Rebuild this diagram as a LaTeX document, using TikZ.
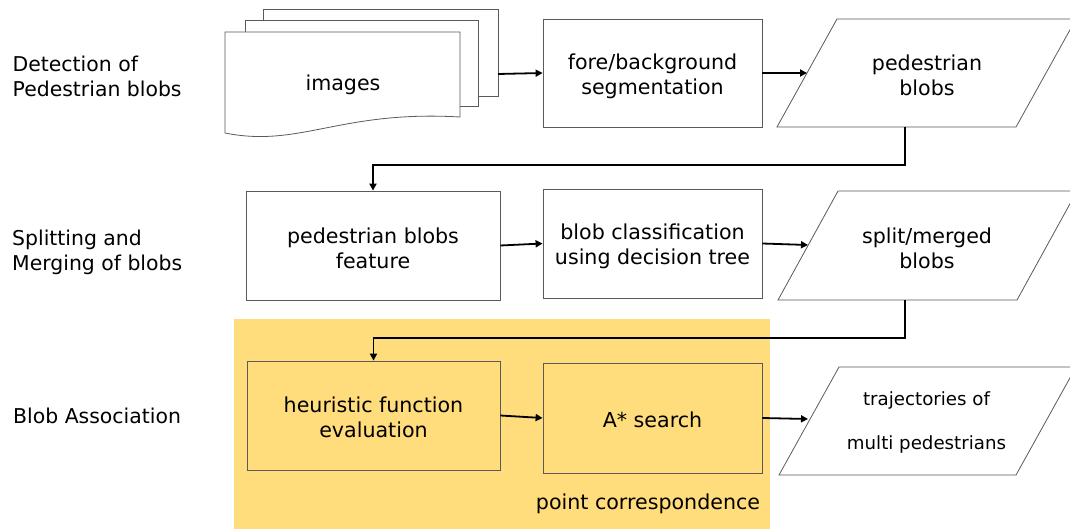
\documentclass[tikz,border=0pt]{standalone}
\usepackage{fontspec}
\setmainfont{DejaVu Sans}
\usetikzlibrary{arrows.meta,calc}
\definecolor{hl}{HTML}{FFDC7C}
\definecolor{edge}{HTML}{5A5A5A}
\begin{document}
\begin{tikzpicture}[x=1pt,y=-1pt,
  txt/.style={font=\fontsize{20.6}{25}\selectfont,align=center,inner sep=0pt},
  lbl/.style={font=\fontsize{20.4}{25}\selectfont,align=left,anchor=west,inner sep=0pt},
  box/.style={draw=edge,line width=0.8pt,inner sep=0pt,minimum width=#1},
  box/.default=219pt,
  shp/.style={draw=edge,line width=0.8pt,fill=white},
  arr/.style={line width=1.8pt,-{Triangle[length=7pt,width=7pt]}}]
\clip (0,0) rectangle (1070,529);
\fill[white] (0,0) rectangle (1070,529);
% highlighted region
\fill[hl] (234,319) rectangle (770,540);
% left labels
\node[lbl] (l1) at (12.5,76) {Detection of\\Pedestrian blobs};
\node[lbl] (l2) at (12,252.5) {Splitting and\\Merging of blobs};
\node[lbl] (l3) at (13,415.5) {Blob Association};
% images (multi-document)
\draw[shp] (263,9) rectangle (498,96);
\draw[shp] (245,20) rectangle (478,106);
\draw[shp] (225,32) -- (460,32) -- (460,117) .. controls (340,110) and (300,148) .. (225,133) -- cycle;
\node[txt] (img) at (343,85) {images};
\coordinate (imgout) at (498,74);
% row 1
\node[box,minimum height=108pt] (fore) at (652.5,73) {};
\node[txt] (foret) at (652.5,76.5) {fore/background\\segmentation};
\draw[shp] (777,127) -- (1016,127) -- (1076,19) -- (837,19) -- cycle;
\node[txt] (pb) at (927,75.5) {pedestrian\\blobs};
\coordinate (pbin) at (807,73);
\coordinate (pbout) at (905,127);
% row 2
\node[box=254pt,minimum height=109pt] (feat) at (373,245.5) {};
\node[txt] (featt) at (373,248) {pedestrian blobs\\feature};
\node[box,minimum height=109pt] (cls) at (652.5,243.5) {};
\node[txt] (clst) at (652.5,246) {blob classification\\using decision tree};
\draw[shp] (778,300) -- (1017,300) -- (1077,191) -- (838,191) -- cycle;
\node[txt] (sm) at (927,248) {split/merged\\blobs};
\coordinate (smin) at (808,245);
\coordinate (smout) at (905,300);
% row 3
\node[box=253pt,minimum height=109pt] (heur) at (373.5,415.5) {};
\node[txt] (heurt) at (373.5,417) {heuristic function\\evaluation};
\node[box,minimum height=110pt] (astar) at (652.5,418) {};
\node[txt] (astart) at (652.5,419.5) {A* search};
\node[txt] (pc) at (648,503.5) {point correspondence};
\draw[shp] (779,475) -- (1016,475) -- (1076,367) -- (839,367) -- cycle;
\node[txt,font=\fontsize{18.2}{44}\selectfont] (traj) at (926.5,422.5) {trajectories of\\multi pedestrians};
\coordinate (trin) at (808,419);
% connectors
\draw[arr] (imgout) -- (fore.west);
\draw[arr] (fore.east) -- (pbin);
\draw[arr] (pbout) -- ++(0,38) -| (feat.north);
\draw[arr] (feat.east) -- (cls.west);
\draw[arr] (cls.east) -- (smin);
\draw[arr] (smout) -- ++(0,38) -| (heur.north);
\draw[arr] (heur.east) -- (astar.west);
\draw[arr] (astar.east) -- (trin);
\end{tikzpicture}
\end{document}
